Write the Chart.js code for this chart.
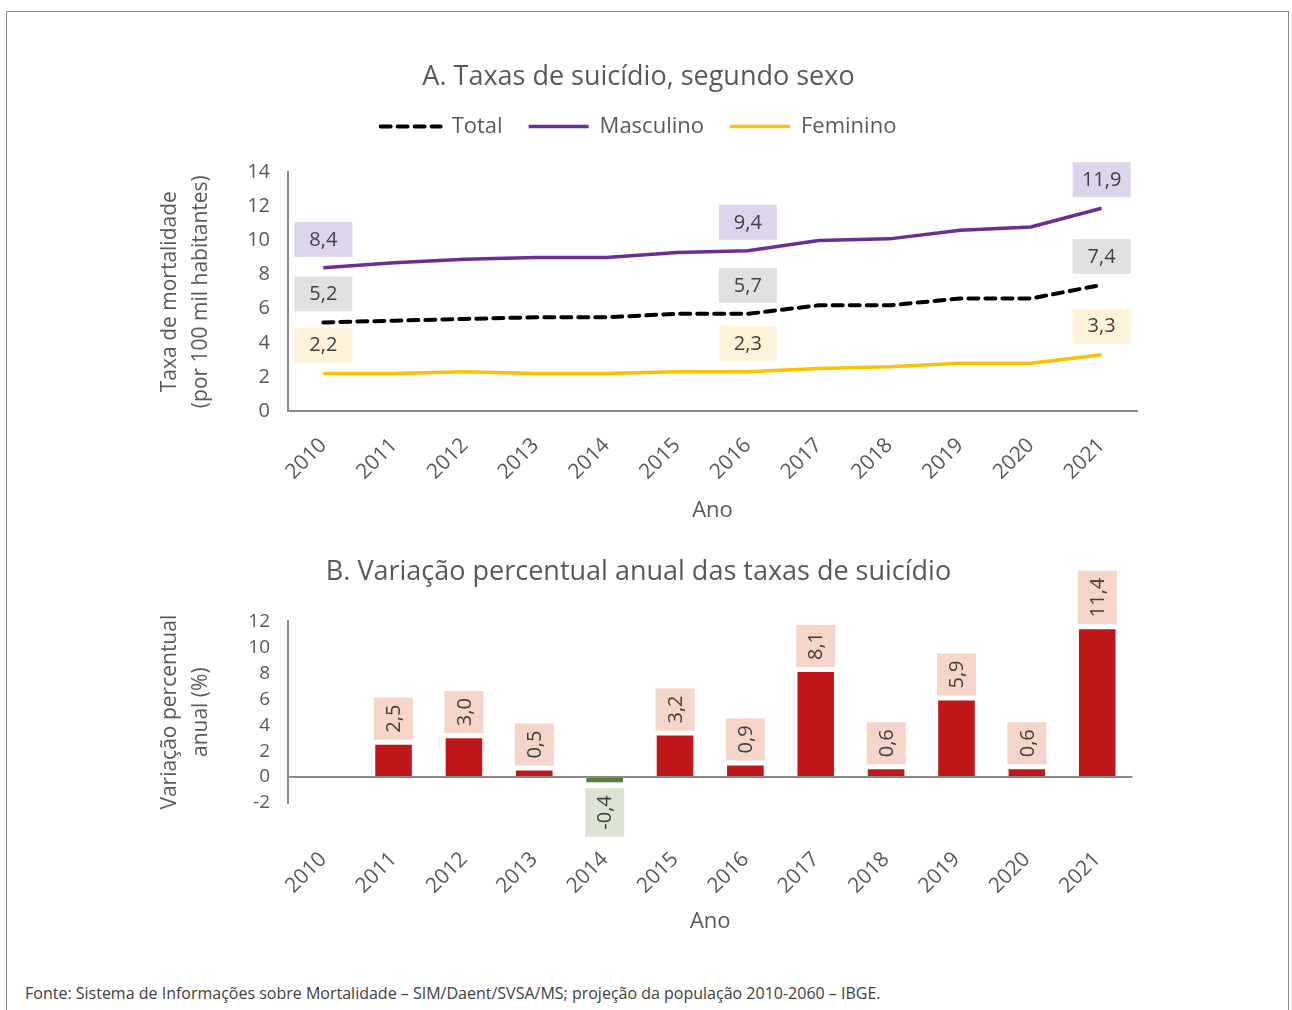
<html>
<head>
<style>
  body { margin: 0; background: #fff; }
  #frame { position: absolute; left: 6px; top: 11px; width: 1283px; height: 1100px; border: 1px solid #8a8a8a; box-sizing: border-box; }
  #c1 { position: absolute; left: 140px; top: 50px; }
  #c2 { position: absolute; left: 140px; top: 545px; }
  #fonte { position: absolute; left: 25px; top: 982px; font: 16px "Open Sans", sans-serif; color: #404040; }
</style>
</head>
<body>
<div id="frame"></div>
<canvas id="c1" width="1020" height="485"></canvas>
<canvas id="c2" width="1020" height="400"></canvas>
<div id="fonte">Fonte: Sistema de Informações sobre Mortalidade – SIM/Daent/SVSA/MS; projeção da população 2010-2060 – IBGE.</div>

<script src="https://cdn.jsdelivr.net/npm/chart.js@4/dist/chart.umd.min.js"></script>
<script>
// dados
const anos = ['2010', '2011', '2012', '2013', '2014', '2015', '2016', '2017', '2018', '2019', '2020', '2021'];
const total = [5.2, 5.3, 5.4, 5.5, 5.5, 5.7, 5.7, 6.2, 6.2, 6.6, 6.6, 7.4];
const masculino = [8.4, 8.7, 8.9, 9.0, 9.0, 9.3, 9.4, 10.0, 10.1, 10.6, 10.8, 11.9];
const feminino = [2.2, 2.2, 2.3, 2.2, 2.2, 2.3, 2.3, 2.5, 2.6, 2.8, 2.8, 3.3];
const variacao = [null, 2.5, 3.0, 0.5, -0.4, 3.2, 0.9, 8.1, 0.6, 5.9, 0.6, 11.4];
const pontosRotulados = [0, 6, 11];
const ticksA = [0, 2, 4, 6, 8, 10, 12, 14];
const ticksB = [-2, 0, 2, 4, 6, 8, 10, 12];

const FONT = '"Open Sans", sans-serif';
const CINZA = '#595959';
const fmt = v => v.toFixed(1).replace('.', ',');

// rótulos com caixa nos pontos das linhas
const rotulosLinhas = {
    id: 'rotulosLinhas',
    afterDatasetsDraw(chart) {
        const ctx = chart.ctx;
        ctx.save();
        ctx.font = '20px ' + FONT;
        ctx.textAlign = 'center';
        ctx.textBaseline = 'middle';
        chart.data.datasets.forEach((ds, di) => {
            const meta = chart.getDatasetMeta(di);
            pontosRotulados.forEach(i => {
                const el = meta.data[i];
                const cy = el.y - 29;
                ctx.fillStyle = ds.labelBg;
                ctx.fillRect(el.x - 29, cy - 17, 58, 35);
                ctx.fillStyle = '#404040';
                ctx.fillText(fmt(ds.data[i]), el.x, cy + 1);
            });
        });
        ctx.restore();
    }
};

// rótulos verticais das barras
const rotulosBarras = {
    id: 'rotulosBarras',
    afterDatasetsDraw(chart) {
        const ctx = chart.ctx;
        const meta = chart.getDatasetMeta(0);
        ctx.save();
        ctx.font = '20px ' + FONT;
        ctx.textAlign = 'center';
        ctx.textBaseline = 'middle';
        meta.data.forEach((el, i) => {
            const v = variacao[i];
            if (v === null) return;
            const txt = fmt(v);
            const h = ctx.measureText(txt).width + 14;
            const w = 39;
            let top;
            if (v >= 0) top = el.y - 5 - h; else top = el.y + 6;
            ctx.fillStyle = v >= 0 ? '#F5D4C9' : '#DDE3D2';
            ctx.fillRect(el.x - w / 2, top, w, h);
            ctx.save();
            ctx.translate(el.x + 1, top + h / 2);
            ctx.rotate(-Math.PI / 2);
            ctx.fillStyle = '#404040';
            ctx.fillText(txt, 0, 0);
            ctx.restore();
        });
        ctx.restore();
    }
};

// espaço extra abaixo da legenda
const espacoLegenda = {
    id: 'espacoLegenda',
    beforeInit(chart) {
        const fit = chart.legend.fit;
        chart.legend.fit = function () {
            fit.bind(chart.legend)();
            this.height += 25;
        };
    }
};

function eixoX(alturaTotal, padTicks, padTitulo) {
    return {
        offset: true,
        grid: { display: false, drawTicks: false },
        border: { color: '#8a8a8a', width: 2 },
        ticks: { color: CINZA, font: { family: FONT, size: 21 }, maxRotation: 45, minRotation: 45, padding: padTicks, autoSkip: false },
        title: { display: true, text: 'Ano', color: CINZA, font: { family: FONT, size: 22 }, padding: { top: 0, bottom: padTitulo } },
        afterFit(s) { s.height = alturaTotal; }
    };
}

function eixoY(titulo, min, max, ticks, tamanho) {
    return {
        min: min, max: max,
        afterBuildTicks(s) { s.ticks = ticks.map(v => ({ value: v })); },
        afterFit(s) { s.width = 148; },
        grid: { display: false, drawTicks: false },
        border: { color: '#8a8a8a', width: 2 },
        ticks: { color: CINZA, font: { family: FONT, size: tamanho, lineHeight: 1 }, padding: 18, autoSkip: false },
        title: { display: true, text: titulo, color: CINZA, font: { family: FONT, size: 21, lineHeight: 1.45 }, padding: { top: 15, bottom: 0 } }
    };
}

new Chart(document.getElementById('c1'), {
    type: 'line',
    data: {
        labels: anos,
        datasets: [
            { label: 'Total', data: total, borderColor: '#000000', backgroundColor: 'transparent', borderWidth: 4, borderDash: [10, 7], borderCapStyle: 'round', pointRadius: 0, tension: 0, labelBg: '#E0E0E0' },
            { label: 'Masculino', data: masculino, borderColor: '#6B2F93', backgroundColor: 'transparent', borderWidth: 3.5, pointRadius: 0, tension: 0, labelBg: '#DCD4EA' },
            { label: 'Feminino', data: feminino, borderColor: '#FFC000', backgroundColor: 'transparent', borderWidth: 3.5, pointRadius: 0, tension: 0, labelBg: '#FEF2DA' }
        ]
    },
    options: {
        responsive: false,
        animation: false,
        devicePixelRatio: 1,
        layout: { padding: { left: 0, right: 23, top: 0, bottom: 0 } },
        plugins: {
            title: { display: true, text: 'A. Taxas de suicídio, segundo sexo', color: CINZA, font: { family: FONT, size: 27, weight: 'normal' }, padding: { top: 11, bottom: -4 } },
            legend: {
                position: 'top',
                labels: {
                    usePointStyle: true, pointStyle: 'line', pointStyleWidth: 60, boxHeight: 20,
                    color: CINZA, font: { family: FONT, size: 22 }, padding: 26,
                    generateLabels(chart) {
                        const itens = Chart.defaults.plugins.legend.labels.generateLabels(chart);
                        itens.forEach(it => {
                            const ds = chart.data.datasets[it.datasetIndex];
                            it.lineDash = ds.borderDash || [];
                            it.lineCap = ds.borderCapStyle || 'butt';
                        });
                        return itens;
                    }
                }
            },
            tooltip: { enabled: false }
        },
        scales: {
            x: eixoX(124, 22, 11),
            y: eixoY(['Taxa de mortalidade', '(por 100 mil habitantes)'], 0, 14, ticksA, 20)
        }
    },
    plugins: [rotulosLinhas, espacoLegenda]
});

new Chart(document.getElementById('c2'), {
    type: 'bar',
    data: {
        labels: anos,
        datasets: [{
            label: 'Variação',
            data: variacao,
            backgroundColor: variacao.map(v => v !== null && v < 0 ? '#548235' : '#C0171A'),
            categoryPercentage: 1,
            barPercentage: 0.52
        }]
    },
    options: {
        responsive: false,
        animation: false,
        devicePixelRatio: 1,
        layout: { padding: { left: 0, right: 23, top: 0, bottom: 0 } },
        plugins: {
            title: { display: true, text: 'B. Variação percentual anual das taxas de suicídio', color: CINZA, font: { family: FONT, size: 27, weight: 'normal' }, padding: { top: 11, bottom: 33 } },
            legend: { display: false },
            tooltip: { enabled: false }
        },
        scales: {
            x: Object.assign(eixoX(142, 44, 10), { border: { display: false } }),
            y: Object.assign(eixoY(['Variação percentual', 'anual (%)'], -2, 12, ticksB, 19), {
                grid: { drawTicks: false, lineWidth: 2, color: c => c.tick && c.tick.value === 0 ? '#8a8a8a' : 'transparent' }
            })
        }
    },
    plugins: [rotulosBarras]
});
</script>
</body>
</html>
